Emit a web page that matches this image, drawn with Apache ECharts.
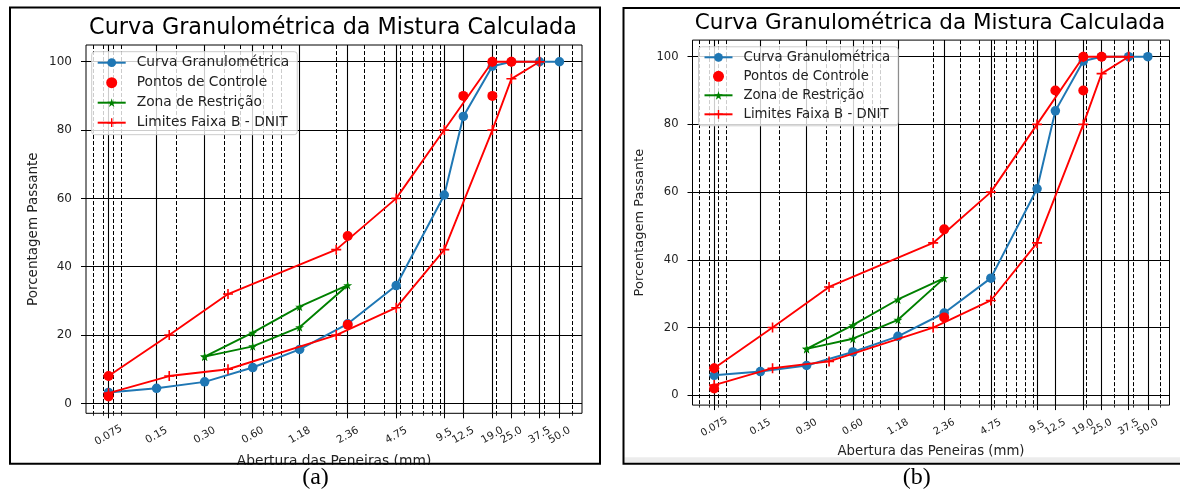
<!DOCTYPE html>
<html><head><meta charset="utf-8">
<script src="https://cdn.jsdelivr.net/npm/echarts@6/dist/echarts.min.js"></script>
<style>html,body{margin:0;padding:0;background:#fff}#c{width:1180px;height:493px}</style>
</head><body><div id="c"></div>
<script>
// ---------- data ----------
const sieves = [0.075, 0.15, 0.30, 0.60, 1.18, 2.36, 4.75, 9.5, 12.5, 19.0, 25.0, 37.5, 50.0];
const sieveLabels = ['0.075', '0.15', '0.30', '0.60', '1.18', '2.36', '4.75', '9.5', '12.5', '19.0', '25.0', '37.5', '50.0'];
const minorGrid = [0.06, 0.07, 0.08, 0.09, 0.2, 0.3, 0.4, 0.5, 0.6, 0.7, 0.8, 0.9, 2, 3, 4, 5, 6, 7, 8, 9, 20, 30, 40, 50, 60];
const yTicks = [0, 20, 40, 60, 80, 100];

const curveA = [3.2, 4.4, 6.3, 10.5, 15.8, 23.3, 34.5, 61, 84, 98.7, 100, 100, 100];
const curveB = [5.9, 7.0, 8.8, 12.8, 17.4, 24.3, 34.6, 61, 84, 98.7, 100, 100, 100];

const controlX = [0.075, 0.075, 2.36, 2.36, 12.5, 19.0, 19.0, 25.0];
const controlY = [2, 8, 23, 49, 90, 90, 100, 100];

const zoneX = [0.30, 0.60, 1.18, 2.36, 1.18, 0.60, 0.30];
const zoneY = [13.7, 20.7, 28.3, 34.6, 22.3, 16.7, 13.7];

const limitSieves = [0.075, 0.18, 0.42, 2.0, 4.75, 9.5, 19.0, 25.0, 37.5];
const limitLower = [3, 8, 10, 20, 28, 45, 80, 95, 100];
const limitUpper = [8, 20, 32, 45, 60, 80, 100, 100, 100];

const seriesNames = ['Curva Granulométrica', 'Pontos de Controle', 'Zona de Restrição', 'Limites Faixa B - DNIT'];
const titleText = 'Curva Granulométrica da Mistura Calculada';
const xName = 'Abertura das Peneiras (mm)';
const yName = 'Porcentagem Passante';
const captions = ['(a)', '(b)'];

// ---------- helpers ----------
const FONT = 'DejaVu Sans';
const XMIN = 0.0542, XMAX = 69.2, YMIN = -2.9, YMAX = 104.9;
function pairs(xs, ys) { return xs.map((x, i) => [x, ys[i]]); }
function sieveLabel(v) {
  for (let i = 0; i < sieves.length; i++) {
    if (Math.abs(Math.log(v / sieves[i])) < 0.01) return sieveLabels[i];
  }
  return '';
}
// labels are split over two axes so that touching neighbours are not auto-hidden
const labelsMain = sieves.filter((v, i) => i !== 11);
const labelsExtra = sieves.filter((v, i) => i === 11);
const limitData = pairs(limitSieves, limitLower)
  .concat(pairs(limitSieves.slice().reverse(), limitUpper.slice().reverse()));
const STAR = 'path://M50,0L61,35L98,35L68,57L79,91L50,70L21,91L32,57L2,35L39,35Z';
const PLUS = 'path://M4.2,0H5.8V4.2H10V5.8H5.8V10H4.2V5.8H0V4.2H4.2Z';

const panels = [
  { grid: { left: 86, top: 45, width: 496, height: 368.3 }, s: 1, curve: curveA, legend: { left: 91.7, top: 51.7 }, title: [333, 28], cap: [315.5, 478] },
  { grid: { left: 692.5, top: 40.1, width: 477, height: 365 }, s: 0.962, curve: curveB, legend: { left: 698.5, top: 46.8 }, title: [930, 23.5], cap: [916.7, 478] }
];

const grids = [], xAxes = [], yAxes = [], series = [], legends = [], graphics = [];
panels.forEach((p, k) => {
  const s = p.s;
  const xLabelStyle = { rotate: 30, align: 'center', verticalAlign: 'middle', margin: 22,
    hideOverlap: false, showMinLabel: true, showMaxLabel: true,
    fontSize: 10.5 * s, fontFamily: FONT, color: '#222', formatter: sieveLabel };
  grids.push(Object.assign({ show: true, borderColor: '#000', borderWidth: 1, backgroundColor: '#fff' }, p.grid));
  xAxes.push({
    type: 'log', logBase: 10, gridIndex: k, min: XMIN, max: XMAX, position: 'bottom',
    axisLine: { show: false, onZero: false },
    axisTick: { show: true, customValues: sieves, length: 5, lineStyle: { color: '#000', width: 1 } },
    axisLabel: Object.assign({ show: true, customValues: labelsMain }, xLabelStyle),
    splitLine: { show: true, lineStyle: { color: '#000', width: 1.1, type: 'solid' } },
    minorTick: { show: false }, minorSplitLine: { show: false },
    name: xName, nameLocation: 'middle', nameGap: 46.5,
    nameTextStyle: { fontSize: 13.8 * s, fontFamily: FONT, color: '#222', verticalAlign: 'middle' }
  });
  xAxes.push({
    type: 'log', logBase: 10, gridIndex: k, min: XMIN, max: XMAX, position: 'bottom',
    axisLine: { show: false, onZero: false },
    axisTick: { show: true, customValues: minorGrid, length: 2.5, lineStyle: { color: '#000', width: 0.8 } },
    axisLabel: Object.assign({ show: true, customValues: labelsExtra }, xLabelStyle),
    splitLine: { show: true, lineStyle: { color: '#000', width: 1, type: [4, 2] } },
    minorTick: { show: false }, minorSplitLine: { show: false }
  });
  yAxes.push({
    type: 'value', gridIndex: k, min: YMIN, max: YMAX,
    axisLine: { show: false, onZero: false },
    axisTick: { show: true, customValues: yTicks, length: 5, lineStyle: { color: '#000', width: 1 } },
    axisLabel: { show: true, customValues: yTicks, margin: 14, fontSize: 12 * s, fontFamily: FONT, color: '#222',
      hideOverlap: false, showMinLabel: true, showMaxLabel: true },
    splitLine: { show: true, lineStyle: { color: '#000', width: 1.1, type: 'solid' } },
    name: yName, nameLocation: 'middle', nameGap: 53, nameRotate: 90,
    nameTextStyle: { fontSize: 13.5 * s, fontFamily: FONT, color: '#222', verticalAlign: 'middle' }
  });
  const xi = 2 * k, yi = k;
  series.push({
    name: seriesNames[0], type: 'line', xAxisIndex: xi, yAxisIndex: yi, data: pairs(sieves, p.curve),
    symbol: 'circle', symbolSize: 9.5, showSymbol: true, color: '#1f77b4',
    lineStyle: { width: 2, color: '#1f77b4' }, itemStyle: { color: '#1f77b4' }, z: 2, animation: false
  });
  series.push({
    name: seriesNames[1], type: 'scatter', xAxisIndex: xi, yAxisIndex: yi, data: pairs(controlX, controlY),
    symbol: 'circle', symbolSize: 10, color: '#ff0000', itemStyle: { color: '#ff0000', opacity: 1 }, z: 3, animation: false
  });
  series.push({
    name: seriesNames[2], type: 'line', xAxisIndex: xi, yAxisIndex: yi, data: pairs(zoneX, zoneY),
    symbol: STAR, symbolSize: 9, showSymbol: true, color: '#008000',
    lineStyle: { width: 1.9, color: '#008000' }, itemStyle: { color: '#008000' }, z: 4, animation: false
  });
  series.push({
    name: seriesNames[3], type: 'line', xAxisIndex: xi, yAxisIndex: yi, data: limitData,
    symbol: PLUS, symbolSize: 10, showSymbol: true, color: '#ff0000',
    lineStyle: { width: 1.9, color: '#ff0000' }, itemStyle: { color: '#ff0000' }, z: 5, animation: false
  });
  legends.push({
    data: seriesNames, orient: 'vertical', left: p.legend.left, top: p.legend.top,
    itemWidth: 28, itemHeight: 11, itemGap: 6, padding: [4, 8, 5, 5],
    backgroundColor: 'rgba(255,255,255,0.8)', borderColor: '#ccc', borderWidth: 1, borderRadius: 3,
    textStyle: { fontSize: 13.8 * s, fontFamily: FONT, color: '#222', padding: [0, 0, 0, 6] },
    selectedMode: false, z: 10
  });
  graphics.push({
    type: 'text', x: p.title[0], y: p.title[1], silent: true,
    style: { text: titleText, fill: '#000', font: (k === 0 ? 22.3 : 21.5) + 'px "DejaVu Sans"', align: 'center', verticalAlign: 'middle' }
  });
  graphics.push({
    type: 'text', x: p.cap[0], y: p.cap[1], silent: true, z: 120,
    style: { text: captions[k], fill: '#000', font: '24px "Liberation Serif"', align: 'center', verticalAlign: 'middle' }
  });
});

// frames
graphics.push({ type: 'rect', silent: true, z: 100, shape: { x: 11, y: 464.7, width: 588, height: 5 }, style: { fill: '#fff' } });
graphics.push({ type: 'rect', silent: true, z: 100, shape: { x: 624.5, y: 457.3, width: 560, height: 5.4 }, style: { fill: '#ececec' } });
graphics.push({ type: 'rect', silent: true, z: 110, shape: { x: 10, y: 7.5, width: 590, height: 456.2 }, style: { fill: 'none', stroke: '#000', lineWidth: 2 } });
graphics.push({ type: 'rect', silent: true, z: 110, shape: { x: 623.5, y: 8, width: 562, height: 455.7 }, style: { fill: 'none', stroke: '#000', lineWidth: 2 } });

const chart = echarts.init(document.getElementById('c'), null, { renderer: 'canvas' });
chart.setOption({
  animation: false,
  backgroundColor: '#fff',
  grid: grids, xAxis: xAxes, yAxis: yAxes, series: series, legend: legends,
  graphic: { elements: graphics }
});
</script></body></html>
